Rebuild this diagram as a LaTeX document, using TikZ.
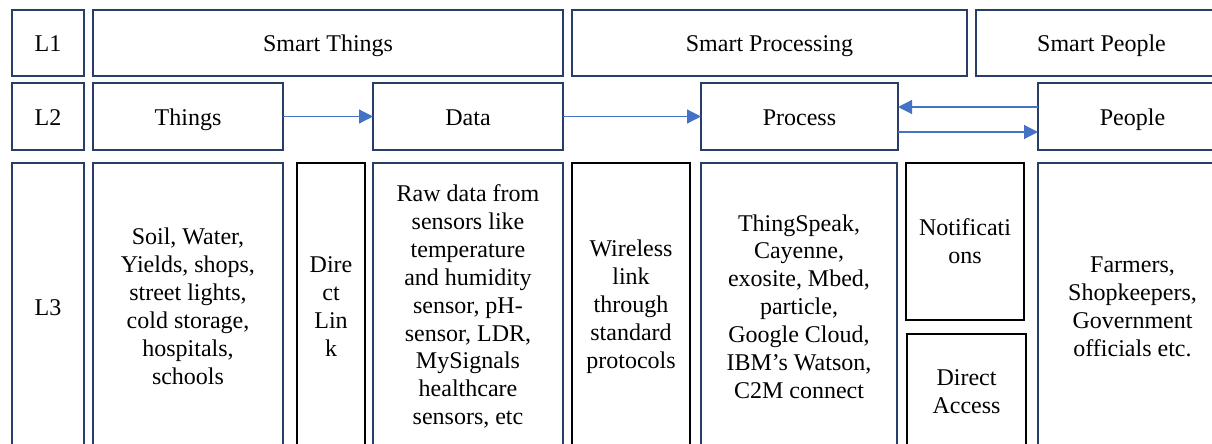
\documentclass[tikz,border=0pt]{standalone}
\usepackage{fontspec}
\setmainfont{Liberation Serif}
\usetikzlibrary{arrows.meta}
\definecolor{navy}{RGB}{40,62,105}
\definecolor{arrblue}{RGB}{68,114,196}
\begin{document}
\begin{tikzpicture}[x=1pt,y=-1pt,
  base/.style={rectangle,inner sep=0pt,outer sep=0pt,align=center,
    font=\fontsize{24}{27.9}\selectfont},
  one/.style={text height=18pt,text depth=0pt},
  nbox/.style={base,draw=navy,line width=2pt},
  kbox/.style={base,draw=black,line width=2.6pt},
  arr/.style={draw=arrblue,line width=1.2pt,-{Triangle[length=14pt,width=14pt]}}]
\useasboundingbox (0,0) rectangle (1212,444);
\clip (0,0) rectangle (1212,444);
% Row 1
\node[nbox,one,minimum width=72pt,minimum height=66pt] (l1) at (48,43) {L1};
\node[nbox,one,minimum width=470pt,minimum height=66pt] (st) at (328,43) {Smart Things};
\node[nbox,one,minimum width=395pt,minimum height=66pt] (sp) at (769.5,43) {Smart Processing};
\node[nbox,one,minimum width=251pt,minimum height=66pt] (spe) at (1101.5,43) {Smart People};
% Row 2
\node[nbox,one,minimum width=72pt,minimum height=67pt] (l2) at (48,116.5) {L2};
\node[nbox,one,minimum width=190pt,minimum height=67pt] (things) at (188,116.5) {Things};
\node[nbox,one,minimum width=190pt,minimum height=67pt] (data) at (468,116.5) {Data};
\node[nbox,one,minimum width=197pt,minimum height=67pt] (process) at (799.5,116.5) {Process};
\node[nbox,one,minimum width=189pt,minimum height=67pt] (people) at (1132.5,116.5) {People};
% Row 3
\node[nbox,one,minimum width=72pt,minimum height=287pt] (l3) at (48,306.5) {L3};
\node[nbox,minimum width=190pt,minimum height=287pt] (thingsd) at (188,306.5)
  {Soil, Water,\\Yields, shops,\\street lights,\\cold storage,\\hospitals,\\schools};
\node[kbox,minimum width=68pt,minimum height=287pt] (dlink) at (331,306.5)
  {Dire\\ct\\Lin\\k};
\node[nbox,minimum width=190pt,minimum height=287pt] (datad) at (468,306.5)
  {Raw data from\\sensors like\\temperature\\and humidity\\sensor, pH-\\sensor, LDR,\\MySignals\\healthcare\\sensors, etc};
\node[kbox,minimum width=118pt,minimum height=287pt] (wireless) at (631,306.5)
  {Wireless\\link\\through\\standard\\protocols};
\node[nbox,minimum width=196pt,minimum height=287pt] (procd) at (799,306.5)
  {ThingSpeak,\\Cayenne,\\exosite, Mbed,\\particle,\\Google Cloud,\\IBM’s Watson,\\C2M connect};
\node[kbox,minimum width=118pt,minimum height=157pt] (notif) at (965,241.5)
  {Notificati\\ons};
\node[kbox,minimum width=119pt,minimum height=116pt] (access) at (966.5,392)
  {Direct\\Access};
\node[nbox,minimum width=189pt,minimum height=287pt] (peopled) at (1132.5,306.5)
  {Farmers,\\Shopkeepers,\\Government\\officials etc.};
% Arrows
\draw[arr] (things.east) -- (data.west);
\draw[arr] (data.east) -- (process.west);
\draw[arr] ([yshift=9.5pt]people.west) -- ([yshift=9.5pt]process.east);
\draw[arr] ([yshift=-15.5pt]process.east) -- ([yshift=-15.5pt]people.west);
\end{tikzpicture}
\end{document}
